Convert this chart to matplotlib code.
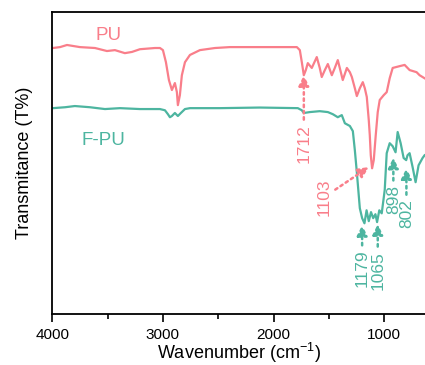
import matplotlib
matplotlib.use('Agg')
import matplotlib.pyplot as plt
import numpy as np

plt.rcParams['font.family'] = ['Liberation Sans', 'DejaVu Sans']
plt.rcParams['mathtext.fontset'] = 'custom'
plt.rcParams['mathtext.rm'] = 'Liberation Sans'
plt.rcParams['mathtext.default'] = 'regular'

# PU spectrum (wavenumber, transmittance a.u.)
pu_wn = [3994, 3930, 3867, 3750, 3614, 3506, 3434, 3344, 3280, 3208, 3072, 3027,
         3000, 2973, 2946, 2919, 2892, 2874, 2865, 2847, 2829, 2801, 2756, 2666,
         2530, 2396, 2125, 1944, 1790, 1763, 1745, 1727, 1709, 1691, 1655, 1610,
         1583, 1565, 1537, 1510, 1474, 1447, 1420, 1402, 1375, 1338, 1311, 1293,
         1266, 1248, 1221, 1194, 1176, 1158, 1140, 1131, 1122, 1110, 1095, 1077,
         1059, 1041, 1005, 978, 951, 924, 861, 816, 771, 744, 708, 681, 636]
pu_t = [88.1, 88.4, 89.1, 88.4, 88.1, 87.1, 87.4, 86.4, 86.8, 87.7, 88.1, 88.1,
        87.4, 83.4, 77.5, 74.2, 76.5, 73.5, 69.2, 72.5, 79.1, 83.4, 85.8, 87.4,
        88.1, 88.4, 88.4, 88.4, 88.4, 87.4, 83.4, 79.1, 80.8, 83.1, 81.5, 85.1,
        81.5, 78.5, 80.8, 82.8, 79.1, 81.5, 84.1, 81.5, 77.5, 81.5, 80.1, 78.5,
        74.8, 72.2, 74.8, 76.8, 74.8, 71.9, 64.2, 59.3, 52.6, 48.3, 51.0, 59.3,
        66.9, 70.9, 72.5, 73.5, 78.1, 81.5, 82.1, 82.5, 80.8, 80.5, 80.1, 79.1, 78.1]

# F-PU spectrum
fpu_wn = [3994, 3885, 3796, 3659, 3524, 3388, 3208, 3027, 2982, 2955, 2937, 2919,
          2892, 2865, 2838, 2801, 2756, 2485, 2125, 1781, 1745, 1727, 1673, 1583,
          1510, 1465, 1420, 1384, 1356, 1311, 1284, 1266, 1248, 1221, 1200, 1179,
          1160, 1140, 1120, 1100, 1080, 1065, 1045, 1023, 996, 978, 951, 924, 898,
          879, 852, 825, 802, 790, 771, 744, 717, 690, 654, 636]
fpu_t = [68.2, 68.5, 68.9, 68.5, 67.9, 68.2, 67.9, 67.9, 67.5, 66.2, 65.2, 65.6,
         66.6, 65.6, 66.6, 67.9, 68.2, 68.2, 68.4, 68.2, 67.5, 66.6, 66.9, 67.2,
         66.9, 66.2, 65.2, 65.9, 63.2, 62.3, 60.6, 54.3, 47.0, 35.1, 31.8, 30.1,
         34.4, 30.8, 33.8, 31.8, 33.1, 30.5, 34.4, 33.4, 41.1, 53.3, 56.6, 55.6,
         53.6, 60.3, 56.6, 51.7, 51.0, 52.6, 53.3, 48.7, 43.7, 49.3, 51.7, 52.6]

pink = '#F97E8A'
green = '#4DB5A0'

# labels: text, tip (wn, T), text position (wn, T), colour
peaks = [
    ('1712', (1727, 79.1), (1727, 56.6), pink),
    ('1103', (1140, 48.7), (1546, 38.7), pink),
    ('1179', (1200, 29.5), (1200, 15.2), green),
    ('1065', (1059, 29.8), (1059, 14.6), green),
    ('898', (918, 51.8), (918, 38.1), green),
    ('802', (800, 48.3), (800, 33.4), green),
]

fig = plt.figure(figsize=(4.25, 3.65), dpi=100)
ax = fig.add_axes([0.123, 0.139, 0.877, 0.828])

ax.plot(pu_wn, pu_t, color=pink, linewidth=1.6)
ax.plot(fpu_wn, fpu_t, color=green, linewidth=1.6)

ax.text(3494, 92.4, 'PU', color=pink, fontsize=13.5, ha='center', va='center')
ax.text(3539, 57.6, 'F-PU', color=green, fontsize=13.5, ha='center', va='center')

for lab, tip, pos, c in peaks:
    ax.annotate(lab, xy=tip, xytext=pos, rotation=90, ha='center', va='center',
                color=c, fontsize=12.5,
                arrowprops=dict(arrowstyle='-|>,head_length=0.5,head_width=0.25',
                                color=c, linestyle=(0, (1, 1.5)), linewidth=1.8,
                                shrinkA=1, shrinkB=0))

ax.set_xlim(4000, 632)
ax.set_ylim(0, 100)
ax.set_xticks([4000, 3000, 2000, 1000])
ax.set_xticks([3500, 2500, 1500], minor=True)
ax.set_yticks([])
ax.tick_params(axis='x', which='major', direction='out', length=6, width=1.2,
               labelsize=11, pad=4)
ax.tick_params(axis='x', which='minor', direction='out', length=3.5, width=1.2)
ax.spines['right'].set_visible(False)
for s in ['left', 'top', 'bottom']:
    ax.spines[s].set_linewidth(1.3)

ax.set_xlabel('Wavenumber (cm$^{-1}$)', fontsize=13, labelpad=-1)
ax.set_ylabel('Transmitance (T%)', fontsize=13, labelpad=14)

plt.savefig('out.png', dpi=100)
